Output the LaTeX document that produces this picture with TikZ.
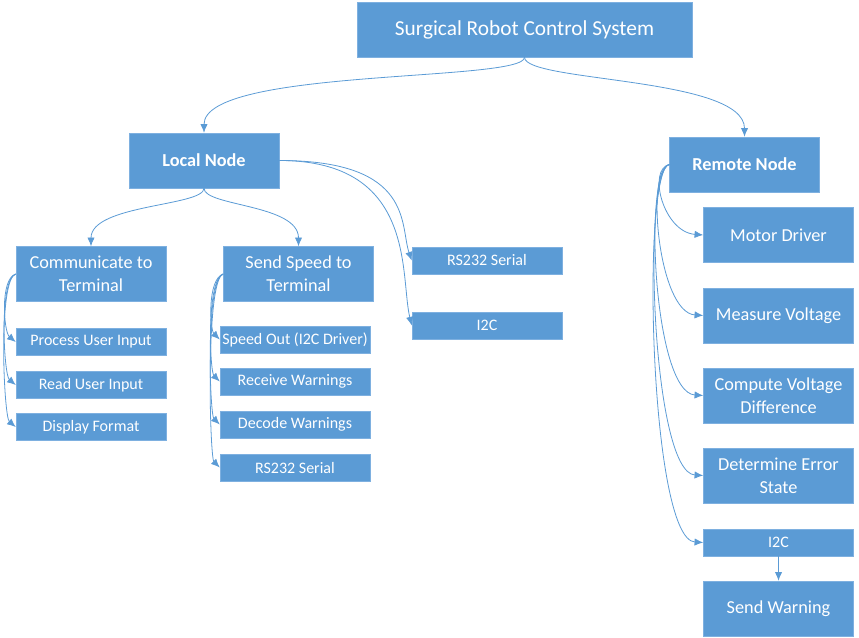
\documentclass[tikz,border=0pt]{standalone}
\usepackage{fontspec}
\setmainfont{Carlito}
\usetikzlibrary{arrows.meta}
\definecolor{boxblue}{RGB}{91,155,213}
\definecolor{edgeblue}{RGB}{126,176,224}

\begin{document}
\begin{tikzpicture}[x=0.75pt,y=0.75pt,yscale=-1,xscale=1,
  box/.style={fill=boxblue, draw=edgeblue, line width=0.4pt, text=white, align=center, inner sep=0pt, minimum width=112.5pt},
  bigbox/.style={box, minimum height=41.25pt, font=\fontsize{13.7}{17.5}\selectfont},
  smallbox/.style={box, minimum height=20.25pt, font=\fontsize{12}{14}\selectfont},
  link/.style={draw=boxblue, line width=0.6pt, -{Latex[length=6.5pt,width=5.5pt]}}]
\useasboundingbox (0,0) rectangle (859,638);

%Shape: Rectangle [title]
\node [box, minimum width=251.25pt, minimum height=41.25pt, font=\fontsize{16}{19}\selectfont] (sys) at (524.5,29.5) {Surgical Robot Control System};
%Shape: Rectangle [local / remote]
\node [bigbox, font=\fontsize{13.7}{17.5}\selectfont\bfseries] (local) at (204,160.5) {Local Node};
\node [bigbox, font=\fontsize{13.7}{17.5}\selectfont\bfseries] (remote) at (744.5,164.5) {Remote Node};

%Shape: Rectangle [local node branch]
\node [bigbox] (comm) at (91,274) {Communicate to\\Terminal};
\node [bigbox] (speed) at (298.5,274) {Send Speed to\\Terminal};
\node [smallbox] (rsa) at (487,260.5) {RS232 Serial};
\node [smallbox] (ia) at (487,325.5) {I2C};

\node [smallbox] (pui) at (91,342) {Process User Input};
\node [smallbox] (rui) at (91,385) {Read User Input};
\node [smallbox] (dfmt) at (91,427) {Display Format};

\node [smallbox] (sout) at (295,339.5) {Speed Out (I2C Driver)};
\node [smallbox] (recw) at (295,381.5) {Receive Warnings};
\node [smallbox] (decw) at (295,424.5) {Decode Warnings};
\node [smallbox] (rsb) at (295,467.5) {RS232 Serial};

%Shape: Rectangle [remote node branch]
\node [bigbox] (motor) at (778.5,235) {Motor Driver};
\node [bigbox] (meas) at (778.5,315.5) {Measure Voltage};
\node [bigbox] (comp) at (778.5,395.5) {Compute Voltage\\Difference};
\node [bigbox] (err) at (778.5,475.5) {Determine Error\\State};
\node [smallbox] (ib) at (778.5,542.5) {I2C};
\node [bigbox] (warn) at (778.5,608.5) {Send Warning};

%Curve Lines [top level]
\draw [link] (sys.south) .. controls +(0,25) and +(0,-65) .. (local.north);
\draw [link] (sys.south) .. controls +(0,25) and +(0,-60) .. (remote.north);

%Curve Lines [local node]
\draw [link] (local.south) .. controls +(0,18) and +(0,-42) .. (comm.north);
\draw [link] (local.south) .. controls +(0,18) and +(0,-42) .. (speed.north);
\draw [link] (local.east) .. controls +(135,0) and +(-12,-35) .. (rsa.west);
\draw [link] (local.east) .. controls +(138,0) and +(-12,-50) .. (ia.west);

%Curve Lines [communicate]
\draw [link] (comm.west) .. controls +(-16,5) and +(-12,-10) .. (pui.west);
\draw [link] (comm.west) .. controls +(-17,5) and +(-12,-10) .. (rui.west);
\draw [link] (comm.west) .. controls +(-18,5) and +(-12,-10) .. (dfmt.west);

%Curve Lines [send speed]
\draw [link] (speed.west) .. controls +(-16,5) and +(-10,-10) .. (sout.west);
\draw [link] (speed.west) .. controls +(-17,5) and +(-10,-10) .. (recw.west);
\draw [link] (speed.west) .. controls +(-18,5) and +(-10,-10) .. (decw.west);
\draw [link] (speed.west) .. controls +(-18,5) and +(-10,-10) .. (rsb.west);

%Curve Lines [remote node]
\draw [link] (remote.west) .. controls +(-22,5) and +(-40,-3) .. (motor.west);
\draw [link] (remote.west) .. controls +(-24,5) and +(-45,-3) .. (meas.west);
\draw [link] (remote.west) .. controls +(-26,5) and +(-50,-3) .. (comp.west);
\draw [link] (remote.west) .. controls +(-27,5) and +(-52,-3) .. (err.west);
\draw [link] (remote.west) .. controls +(-28,5) and +(-54,-3) .. (ib.west);

%Straight Lines
\draw [link] (ib.south) -- (warn.north);

\end{tikzpicture}
\end{document}
